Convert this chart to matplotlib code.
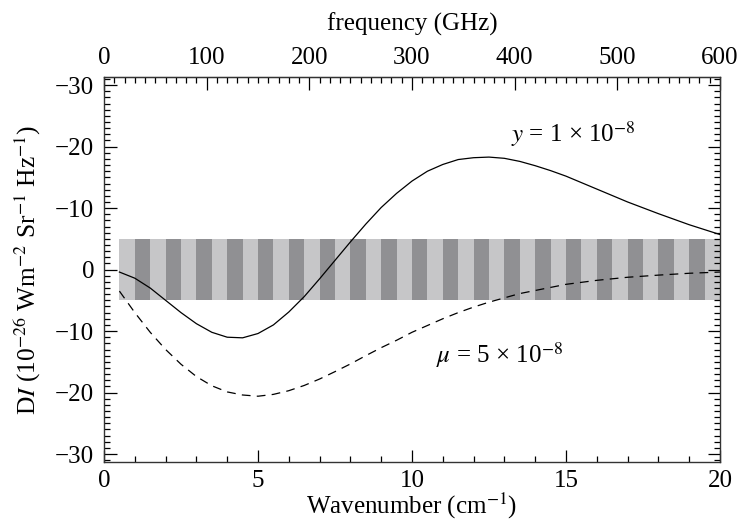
import numpy as np
import matplotlib
matplotlib.use("Agg")
import matplotlib.pyplot as plt
from matplotlib.ticker import MultipleLocator, FixedLocator

plt.rcParams['font.family'] = ['Liberation Serif', 'DejaVu Serif']
plt.rcParams['mathtext.fontset'] = 'stix'

# Wavenumber (cm^-1) sample points
sigma = [0.5, 1, 1.5, 2, 2.5, 3, 3.5, 4, 4.5, 5, 5.5, 6, 6.5, 7, 7.5, 8, 8.5, 9, 9.5,
         10, 10.5, 11, 11.5, 12, 12.5, 13, 13.5, 14, 14.5, 15, 16, 17, 18, 19, 20]
# y-distortion curve (y = 1e-8), solid
y_dist = [-0.4, -1.4, -3.0, -5.0, -7.0, -8.8, -10.2, -11.0, -11.1, -10.4, -9.0, -6.9, -4.4,
          -1.5, 1.5, 4.5, 7.4, 10.1, 12.4, 14.4, 16.0, 17.1, 17.9, 18.2, 18.3, 18.1, 17.6,
          16.9, 16.1, 15.2, 13.1, 11.0, 9.1, 7.3, 5.7]
# mu-distortion curve (mu = 5e-8), dashed
mu_dist = [-3.5, -7.0, -10.2, -13.0, -15.4, -17.4, -18.9, -19.9, -20.4, -20.6, -20.3, -19.7,
           -18.85, -17.8, -16.6, -15.35, -14.0, -12.7, -11.5, -10.2, -9.1, -8.0, -7.0, -6.1,
           -5.3, -4.6, -3.9, -3.4, -2.9, -2.4, -1.75, -1.25, -0.9, -0.6, -0.4]

# sensitivity band (striped)
band_start = 0.5
band_end = 20.0
channel_width = 0.5
band_low, band_high = -5.0, 5.0
stripe_colors = ['#c6c6c8', '#909093']

ytick_vals = [30, 20, 10, 0, -10, -20, -30]
ytick_labels = ['\u221230', '\u221220', '\u221210', '0', '\u221210', '\u221220', '\u221230']
freq_ticks = [0, 100, 200, 300, 400, 500, 600]
ghz_per_wavenumber = 30.0

fig = plt.figure(figsize=(7.43, 5.25), dpi=100)
ax = fig.add_axes([0.140, 0.120, 0.829, 0.733])

lefts = np.arange(band_start, band_end - 1e-9, channel_width)
cols = [stripe_colors[i % 2] for i in range(len(lefts))]
ax.bar(lefts, band_high - band_low, width=channel_width, bottom=band_low,
       align='edge', color=cols, linewidth=0, zorder=1)

ax.plot(sigma, y_dist, color='black', lw=0.9, zorder=3)
ax.plot(sigma, mu_dist, color='black', lw=0.9, dashes=(7, 5), zorder=3)

ax.text(15.25, 22.0, r'$y$ = 1 × 10$^{-8}$', fontsize=18, ha='center', va='center')
ax.text(12.85, -13.9, r'$\mu$ = 5 × 10$^{-8}$', fontsize=18, ha='center', va='center')

ax.set_xlim(0, 20)
ax.set_ylim(-31.3, 31.3)
ax.set_yticks(ytick_vals)
ax.set_yticklabels(ytick_labels)
ax.xaxis.set_major_locator(MultipleLocator(5))
ax.xaxis.set_minor_locator(MultipleLocator(1))
ax.yaxis.set_minor_locator(MultipleLocator(1))
ax.tick_params(which='both', direction='in', right=True, labelsize=18, width=0.9)
ax.tick_params(axis='x', which='both', top=False)
ax.tick_params(which='major', length=9)
ax.tick_params(which='minor', length=4.5)
ax.tick_params(axis='x', pad=6)
ax.tick_params(axis='y', pad=7)
for s in ax.spines.values():
    s.set_linewidth(1.0)
    s.set_color('#333333')

ax.set_xlabel('Wavenumber (cm$^{-1}$)', fontsize=18, labelpad=-1)
ylab = ax.set_ylabel(r'D$I$ (10$^{-26}$ Wm$^{-2}$ Sr$^{-1}$ Hz$^{-1}$)', fontsize=18, labelpad=9)

sec = ax.secondary_xaxis('top', functions=(lambda s: s * ghz_per_wavenumber,
                                          lambda f: f / ghz_per_wavenumber))
sec.xaxis.set_major_locator(FixedLocator(freq_ticks))
sec.xaxis.set_minor_locator(FixedLocator(list(range(0, 601, 10))))
sec.tick_params(which='both', direction='in', labelsize=18, width=0.9, pad=6)
sec.tick_params(which='major', length=9)
sec.tick_params(which='minor', length=4.5)
sec.set_xlabel('frequency (GHz)', fontsize=18, labelpad=12)

# fit y-label length to the reference (~290 px)
fig.canvas.draw()
bb = ylab.get_window_extent(renderer=fig.canvas.get_renderer())
ylab.set_fontsize(18 * 290.0 / bb.height)

fig.savefig('out.png', dpi=100)
